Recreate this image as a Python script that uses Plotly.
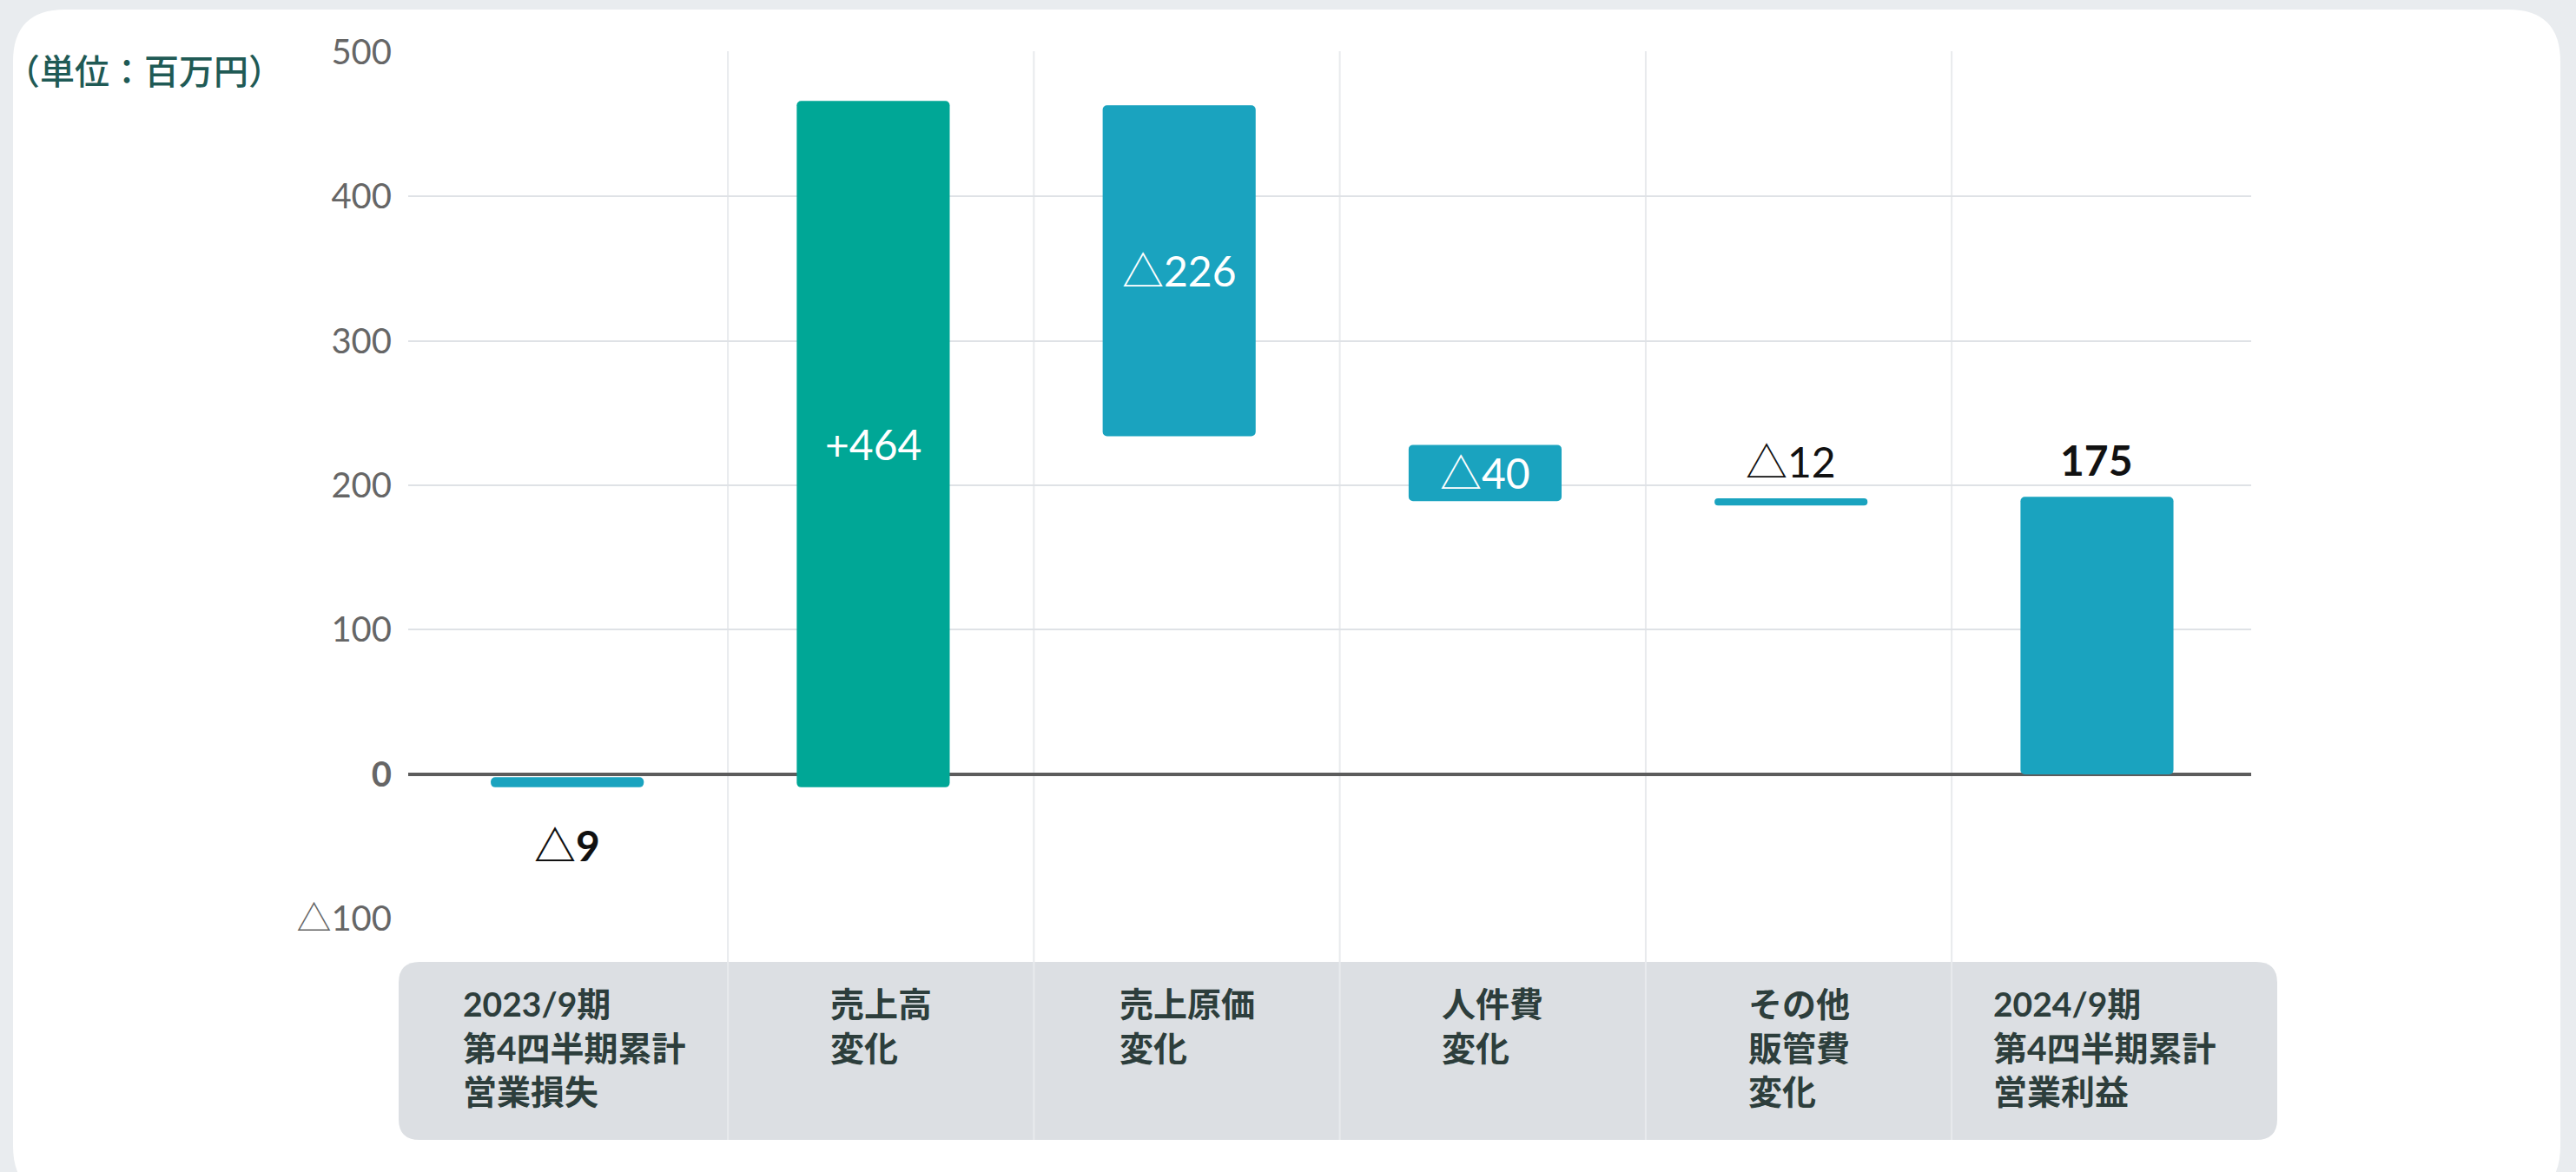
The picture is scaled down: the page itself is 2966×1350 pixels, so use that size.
import plotly.graph_objects as go

# ---------------- data ----------------
categories = ["c1", "c2", "c3", "c4", "c5", "c6"]
category_labels = [
    "2023/9期<br>第4四半期累計<br>営業損失",
    "売上高<br>変化",
    "売上原価<br>変化",
    "人件費<br>変化",
    "その他<br>販管費<br>変化",
    "2024/9期<br>第4四半期累計<br>営業利益",
]
bar_bottom = [-9, -9, 234, 189, 186, 0]
bar_top = [-2, 466, 463, 228, 191, 192]
value_labels = ["△9", "+464", "△226", "△40", "△12", "175"]
label_place = ["below", "inside", "inside", "inside", "above", "above"]
label_bold = [True, False, False, False, False, True]
bar_colors = ["#1aa3bf", "#00a796", "#1aa3bf", "#1aa3bf", "#1aa3bf", "#1aa3bf"]
y_tickvals = [-100, 0, 100, 200, 300, 400, 500]
y_ticktext = ["△100", "<b>0</b>", "100", "200", "300", "400", "500"]
unit_label = "（単位：百万円）"

# ---------------- layout geometry ----------------
W, H = 2966, 1350
ML, MR, MT, MB = 470, 374, 59, 291
PW, PH = W - ML - MR, H - MT - MB


def px_x(px):
    return (px - ML) / PW


def px_y(py):
    return (H - MB - py) / PH


def rounded_rect(x0, y0, x1, y1, r):
    # pixel coords -> paper path with quadratic corners
    X0, X1 = px_x(x0), px_x(x1)
    Y0, Y1 = px_y(y0), px_y(y1)  # Y0 top, Y1 bottom
    rx, ry = r / PW, r / PH
    return (
        f"M {X0+rx},{Y0} L {X1-rx},{Y0} Q {X1},{Y0} {X1},{Y0-ry} "
        f"L {X1},{Y1+ry} Q {X1},{Y1} {X1-rx},{Y1} "
        f"L {X0+rx},{Y1} Q {X0},{Y1} {X0},{Y1+ry} "
        f"L {X0},{Y0-ry} Q {X0},{Y0} {X0+rx},{Y0} Z"
    )


NUM_FONT = "Lato, 'Noto Sans CJK JP', sans-serif"
JP_FONT = "Lato, 'Noto Sans CJK JP', sans-serif"

heights = [t - b for t, b in zip(bar_top, bar_bottom)]

fig = go.Figure()
fig.add_trace(
    go.Bar(
        x=categories,
        y=heights,
        base=bar_bottom,
        width=0.5,
        offset=-0.275,
        marker=dict(color=bar_colors, line=dict(width=0)),
        hoverinfo="skip",
        showlegend=False,
    )
)

shapes = []
# white card
shapes.append(dict(type="path", xref="paper", yref="paper",
                   path=rounded_rect(15, 11, 2948, 1380, 60),
                   fillcolor="#ffffff", line=dict(width=0), layer="below"))
# gray category band
shapes.append(dict(type="path", xref="paper", yref="paper",
                   path=rounded_rect(459, 1108, 2622, 1313, 24),
                   fillcolor="#dcdfe3", line=dict(width=0), layer="below"))
# vertical separators at category boundaries
for i in range(len(categories) - 1):
    shapes.append(dict(type="line", xref="x", yref="paper",
                       x0=i + 0.5, x1=i + 0.5, y0=1, y1=px_y(1313),
                       line=dict(color="#e8eaed", width=2), layer="below"))

annotations = []
# unit label
annotations.append(dict(text=unit_label, xref="paper", yref="paper",
                        x=px_x(4), y=px_y(80), xanchor="left", yanchor="middle",
                        showarrow=False,
                        font=dict(family="'Noto Sans CJK JP'", size=40, weight=500,
                                  color="#1f5a55")))
# category labels
for c, lab in zip(categories, category_labels):
    annotations.append(dict(text=f"<b>{lab}</b>", xref="x", yref="paper",
                            x=c, y=px_y(1131), xanchor="center", yanchor="top",
                            align="left", showarrow=False,
                            font=dict(family=JP_FONT, size=39, color="#2d3e3c")))
# value labels
for c, b, t, lab, place, bold in zip(categories, bar_bottom, bar_top,
                                     value_labels, label_place, label_bold):
    txt = f"<b>{lab}</b>" if bold else lab
    if place == "inside":
        annotations.append(dict(text=txt, x=c, y=(b + t) / 2, xref="x", yref="y",
                                xanchor="center", yanchor="middle", showarrow=False,
                                xshift=-9,
                                font=dict(family=NUM_FONT, size=48, color="#ffffff")))
    elif place == "above":
        annotations.append(dict(text=txt, x=c, y=t, xref="x", yref="y",
                                xanchor="center", yanchor="bottom", yshift=12,
                                xshift=-9,
                                showarrow=False,
                                font=dict(family=NUM_FONT, size=48, color="#111111")))
    else:
        annotations.append(dict(text=txt, x=c, y=b, xref="x", yref="y",
                                xanchor="center", yanchor="top", yshift=-36,
                                xshift=-9,
                                showarrow=False,
                                font=dict(family=NUM_FONT, size=48, color="#111111")))

fig.update_layout(
    width=W, height=H,
    margin=dict(l=ML, r=MR, t=MT, b=MB, pad=0),
    paper_bgcolor="#e9ecef",
    plot_bgcolor="rgba(0,0,0,0)",
    barcornerradius=5,
    shapes=shapes,
    annotations=annotations,
    showlegend=False,
    xaxis=dict(
        type="category",
        range=[-0.545, 5.479],
        showgrid=False, zeroline=False, showline=False,
        showticklabels=False, ticks="",
        fixedrange=True,
    ),
    yaxis=dict(
        range=[-100.4, 500.4],
        tickvals=y_tickvals, ticktext=y_ticktext,
        showgrid=True, gridcolor="#dfe2e6", gridwidth=2,
        zeroline=True, zerolinecolor="#5c5c5c", zerolinewidth=4,
        showline=False, ticks="",
        ticklabelstandoff=18,
        tickfont=dict(family=NUM_FONT, size=40, color="#666666"),
        fixedrange=True,
    ),
)

fig.write_html(
    "out.html",
    config=dict(displayModeBar=False),
    post_script="document.body.style.margin='0';document.body.style.overflow='hidden';",
)
